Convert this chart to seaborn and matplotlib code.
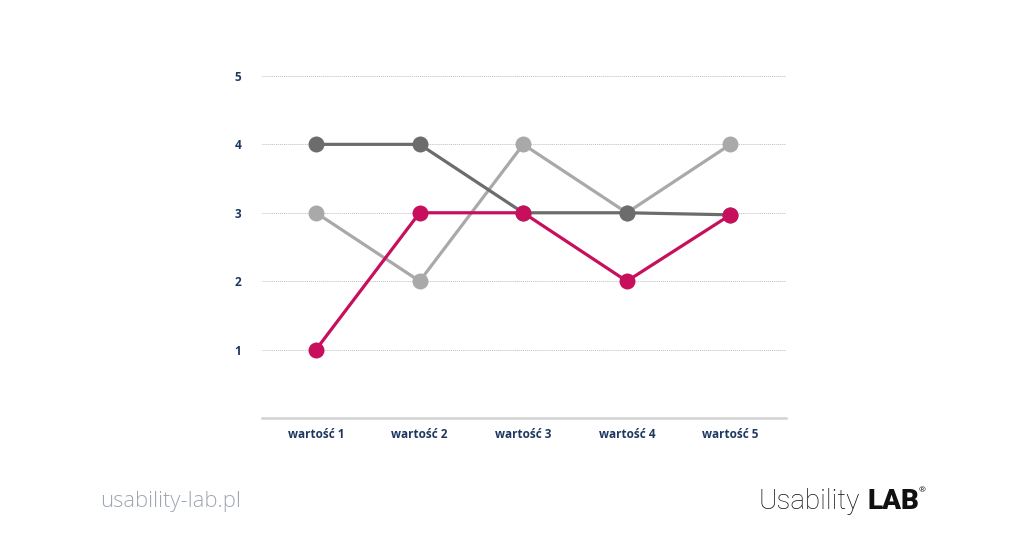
import pandas as pd
import matplotlib.pyplot as plt
import seaborn as sns

categories = ['wartość 1', 'wartość 2', 'wartość 3', 'wartość 4', 'wartość 5']
light_vals = [3, 2, 4, 3, 4]
dark_vals = [4, 4, 3, 3, 2.97]
pink_vals = [1, 3, 3, 2, 2.97]

series_names = ['jasna', 'ciemna', 'różowa']
colors = {'jasna': '#a9a9a9', 'ciemna': '#6c6c6c', 'różowa': '#c70f5b'}

# long form table for seaborn
rows = []
for name, vals in zip(series_names, [light_vals, dark_vals, pink_vals]):
    for i, v in enumerate(vals):
        rows.append({'kat': i, 'wartosc': v, 'seria': name})
df = pd.DataFrame(rows)

sns.set_style('white')
plt.rcParams['font.family'] = ['Open Sans', 'DejaVu Sans']

fig = plt.figure(figsize=(10.24, 5.57), dpi=100)
ax = fig.add_axes([0.256, 0.2496, 0.512, 0.614])

sns.lineplot(data=df, x='kat', y='wartosc', hue='seria', hue_order=series_names,
             palette=colors, marker='o', markersize=11.5, markeredgewidth=0,
             linewidth=2.3, legend=False, ax=ax, zorder=3)

ax.set_xlim(-0.52, 4.54)
ax.set_ylim(0, 5)
ax.set_yticks([1, 2, 3, 4, 5])
ax.set_xticks(range(len(categories)))
ax.set_xticklabels(categories)
ax.set_xlabel('')
ax.set_ylabel('')
for y in [1, 2, 3, 4, 5]:
    ax.axhline(y, color='#bdbdbd', linewidth=0.7, linestyle=(0, (1, 1)), zorder=1)

for s in ['top', 'right', 'left']:
    ax.spines[s].set_visible(False)
ax.spines['bottom'].set_color('#d2d2d2')
ax.spines['bottom'].set_linewidth(1.8)
ax.tick_params(axis='both', length=0, colors='#1d3860', labelsize=8.5)
ax.tick_params(axis='y', pad=15)
ax.tick_params(axis='x', pad=7)
for lbl in ax.get_xticklabels() + ax.get_yticklabels():
    lbl.set_fontweight('bold')

fig.text(0.098, 0.1, 'usability-lab.pl', fontsize=15.8, color='#a0a7b3',
         fontweight='light', va='center', ha='left', family=['Open Sans', 'DejaVu Sans'])
fig.text(0.741, 0.1, 'Usability', fontsize=20, color='#111111',
         fontweight='light', va='center', ha='left', family=['Roboto', 'DejaVu Sans'])
fig.text(0.847, 0.1, 'LAB', fontsize=20, color='#111111',
         fontweight='heavy', va='center', ha='left', family=['Roboto', 'DejaVu Sans'])
fig.text(0.897, 0.119, '®', fontsize=6, color='#111111', va='center', ha='left')

fig.savefig('out.png', dpi=100)
